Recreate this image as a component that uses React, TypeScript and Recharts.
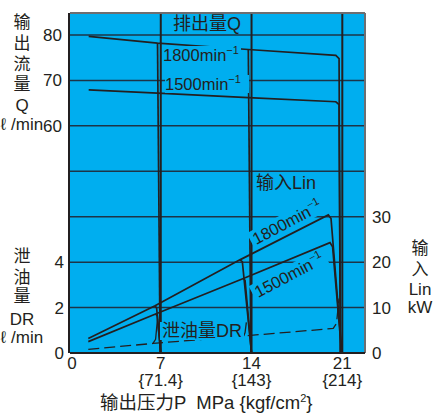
import {
  LineChart,
  Line,
  XAxis,
  YAxis,
  CartesianGrid,
  ReferenceLine,
} from 'recharts';

// x axis: output pressure (MPa) with kgf/cm2 in braces
const pressureTicks = [0, 7, 14, 21];
const kgfLabels = ['', '{71.4}', '{143}', '{214}'];

// left axes
const qTicks = [60, 70, 80];
const drTicks = [0, 2, 4];
// right axis (grid uses all of these, labels only up to 30)
const linTicks = [0, 10, 20, 30, 40, 50, 60, 70];

// output flow Q (l/min)
const qMainP = [1.44, 6.75, 13.75, 20.5, 20.75, 20.85];
const q1800 = [79.7, 78.2, 76.8, 75.5, 74.8, 10];
const q1500 = [67.9, 67.2, 66.2, 65.3, 64.7, 10];
const qReliefP7 = [6.75, 6.95];
const qRelief7 = [78.2, 10];
const qReliefP14 = [13.75, 13.95];
const qRelief14 = [76.8, 10];

// input power Lin (kW)
const lin1800P = [1.41, 6.56, 13.1, 19.92, 20.13, 20.97];
const lin1800 = [3.2, 10.4, 20.5, 30.4, 29.6, 0];
const lin1500P = [1.41, 6.6, 13.37, 20.05, 20.25, 20.95];
const lin1500 = [2.5, 8.6, 16.4, 24.3, 23.4, 0];
const lin1800ReliefP7 = [6.56, 6.68, 7.0];
const lin1800Relief7 = [10.4, 9.9, 0];
const lin1500ReliefP7 = [6.6, 6.72, 7.0];
const lin1500Relief7 = [8.6, 8.2, 0];
const lin1800ReliefP14 = [13.1, 13.29, 14.0];
const lin1800Relief14 = [20.5, 20.1, 0];
const lin1500ReliefP14 = [13.37, 13.5, 14.0];
const lin1500Relief14 = [16.4, 16.0, 0];

// drain DR (l/min)
const drP = [1.41, 6.4, 13.4, 20.3, 20.55, 20.75];
const drain = [0.16, 0.42, 0.75, 1.08, 1.3, 2.4];
const drP7 = [6.4, 6.6, 6.75];
const dr7 = [0.42, 0.6, 1.5];
const drP14 = [13.4, 13.5, 13.6];
const dr14 = [0.75, 0.9, 1.35];

const pts = (xs: number[], ys: number[]) => xs.map((p, i) => ({ p, v: ys[i] }));

const INK = '#231f20';
const CYAN = '#00aeef';
const GRID = '#1d3447';
const FONT = '"Liberation Sans", Arial, "Noto Sans CJK SC", sans-serif';

const PressureTick = ({ x, y, payload }: any) => {
  const i = pressureTicks.indexOf(payload.value);
  return (
    <g fontFamily={FONT} fontSize={17} fill={INK}>
      <text x={x + (payload.value === 0 ? 2 : 0)} y={y + 16} textAnchor="middle">
        {payload.value}
      </text>
      {kgfLabels[i] ? (
        <text x={x} y={y + 33} textAnchor="middle">
          {kgfLabels[i]}
        </text>
      ) : null}
    </g>
  );
};

const Stack = ({ lines, x }: { lines: [string, number][]; x: number }) => (
  <>
    {lines.map(([t, cy]) => (
      <div
        key={t + cy}
        style={{
          position: 'absolute',
          left: x - 40,
          width: 80,
          top: cy - 8,
          height: 16,
          lineHeight: '16px',
          textAlign: 'center',
          fontSize: 17,
          whiteSpace: 'pre',
        }}
      >
        {t}
      </div>
    ))}
  </>
);

const MinInv = ({ rpm }: { rpm: string }) => (
  <span>
    {rpm}min<sup style={{ fontSize: 11, verticalAlign: 7, lineHeight: 0 }}>−1</sup>
  </span>
);

export default function App() {
  const solid = { stroke: INK, strokeWidth: 1.7, dot: false, isAnimationActive: false } as const;
  const tickStyle = { fill: INK, fontSize: 17, fontFamily: FONT };
  const label: any = {
    position: 'absolute',
    lineHeight: '18px',
    fontSize: 18,
    whiteSpace: 'nowrap',
    color: INK,
  };

  return (
    <div
      style={{
        position: 'absolute',
        left: 0,
        top: 0,
        width: 434,
        height: 416,
        background: '#fff',
        fontFamily: FONT,
        color: INK,
      }}
    >
      <LineChart width={434} height={416} margin={{ top: 13, right: 68, bottom: 13, left: 68 }}>
        <CartesianGrid
          yAxisId="lin"
          fill={CYAN}
          fillOpacity={1}
          stroke={GRID}
          strokeWidth={1.5}
          vertical={false}
        />
        <XAxis
          type="number"
          dataKey="p"
          domain={[0, 22.75]}
          ticks={pressureTicks}
          allowDataOverflow
          height={50}
          tickSize={0}
          tickMargin={0}
          tick={<PressureTick />}
          axisLine={{ stroke: INK, strokeWidth: 2 }}
          tickLine={false}
        />
        <YAxis
          yAxisId="q"
          type="number"
          domain={[10, 84.84]}
          ticks={qTicks}
          allowDataOverflow
          width={1}
          tickSize={0}
          tickMargin={7}
          tickLine={false}
          axisLine={{ stroke: INK, strokeWidth: 2 }}
          tick={tickStyle}
        />
        <YAxis
          yAxisId="dr"
          type="number"
          domain={[0, 14.97]}
          ticks={drTicks}
          allowDataOverflow
          width={1}
          tickSize={0}
          tickMargin={6}
          tickLine={false}
          axisLine={false}
          tick={tickStyle}
        />
        <YAxis
          yAxisId="lin"
          orientation="right"
          type="number"
          domain={[0, 74.84]}
          ticks={linTicks}
          tickFormatter={(v: number) => (v <= 30 ? String(v) : '')}
          allowDataOverflow
          width={1}
          tickSize={0}
          tickMargin={7}
          tickLine={false}
          axisLine={false}
          tick={tickStyle}
        />
        {[7, 14, 21].map((v) => (
          <ReferenceLine key={v} yAxisId="lin" x={v} stroke={INK} strokeWidth={2} />
        ))}
        <ReferenceLine yAxisId="lin" y={74.84} stroke="#6d6e71" strokeWidth={2} ifOverflow="visible" />
        <ReferenceLine yAxisId="lin" x={22.75} stroke="#6d6e71" strokeWidth={2} ifOverflow="visible" />

        <Line yAxisId="q" data={pts(qMainP, q1800)} dataKey="v" {...solid} />
        <Line yAxisId="q" data={pts(qMainP, q1500)} dataKey="v" {...solid} />
        <Line yAxisId="q" data={pts(qReliefP7, qRelief7)} dataKey="v" {...solid} />
        <Line yAxisId="q" data={pts(qReliefP14, qRelief14)} dataKey="v" {...solid} />

        <Line yAxisId="lin" data={pts(lin1800P, lin1800)} dataKey="v" {...solid} />
        <Line yAxisId="lin" data={pts(lin1500P, lin1500)} dataKey="v" {...solid} />
        <Line yAxisId="lin" data={pts(lin1800ReliefP7, lin1800Relief7)} dataKey="v" {...solid} />
        <Line yAxisId="lin" data={pts(lin1500ReliefP7, lin1500Relief7)} dataKey="v" {...solid} />
        <Line yAxisId="lin" data={pts(lin1800ReliefP14, lin1800Relief14)} dataKey="v" {...solid} />
        <Line yAxisId="lin" data={pts(lin1500ReliefP14, lin1500Relief14)} dataKey="v" {...solid} />

        <Line yAxisId="dr" data={pts(drP, drain)} dataKey="v" {...solid} strokeWidth={1.3} strokeDasharray="11 5" />
        <Line yAxisId="dr" data={pts(drP7, dr7)} dataKey="v" {...solid} strokeWidth={1.3} />
        <Line yAxisId="dr" data={pts(drP14, dr14)} dataKey="v" {...solid} strokeWidth={1.3} />
      </LineChart>

      {/* labels inside the plot */}
      <div style={{ ...label, left: 173, top: 15 }}>排出量Q</div>
      <div style={{ ...label, left: 163, top: 46, fontSize: 16.5, background: CYAN, paddingRight: 2 }}>
        <MinInv rpm="1800" />
      </div>
      <div style={{ ...label, left: 165, top: 75, fontSize: 16.5, background: CYAN, paddingRight: 8 }}>
        <MinInv rpm="1500" />
      </div>
      <div style={{ ...label, left: 256, top: 174 }}>输入Lin</div>
      <div
        style={{
          ...label,
          left: 287,
          top: 222,
          fontSize: 16.5,
          background: CYAN,
          padding: '0 3px',
          transform: 'translate(-50%, -50%) rotate(-28deg)',
        }}
      >
        <MinInv rpm="1800" />
      </div>
      <div
        style={{
          ...label,
          left: 289,
          top: 275,
          fontSize: 16.5,
          background: CYAN,
          padding: '0 3px',
          transform: 'translate(-50%, -50%) rotate(-28deg)',
        }}
      >
        <MinInv rpm="1500" />
      </div>
      <div style={{ ...label, left: 160, top: 322, background: CYAN, padding: '0 2px' }}>泄油量DR</div>

      {/* axis titles */}
      <Stack
        x={22}
        lines={[
          ['输', 23],
          ['出', 44],
          ['流', 65],
          ['量', 85],
          ['Q', 106],
          ['ℓ /min', 125],
        ]}
      />
      <Stack
        x={22}
        lines={[
          ['泄', 257],
          ['油', 278],
          ['量', 297],
          ['DR', 320],
          ['ℓ /min', 338],
        ]}
      />
      <Stack
        x={420}
        lines={[
          ['输', 249],
          ['入', 270],
          ['Lin', 290],
          ['kW', 308],
        ]}
      />
      <div style={{ ...label, left: 100, top: 394, fontSize: 18.5, whiteSpace: 'pre' }}>
        {'输出压力P  MPa {kgf/cm'}
        <sup style={{ fontSize: 11, verticalAlign: 7, lineHeight: 0 }}>2</sup>
        {'}'}
      </div>
    </div>
  );
}
